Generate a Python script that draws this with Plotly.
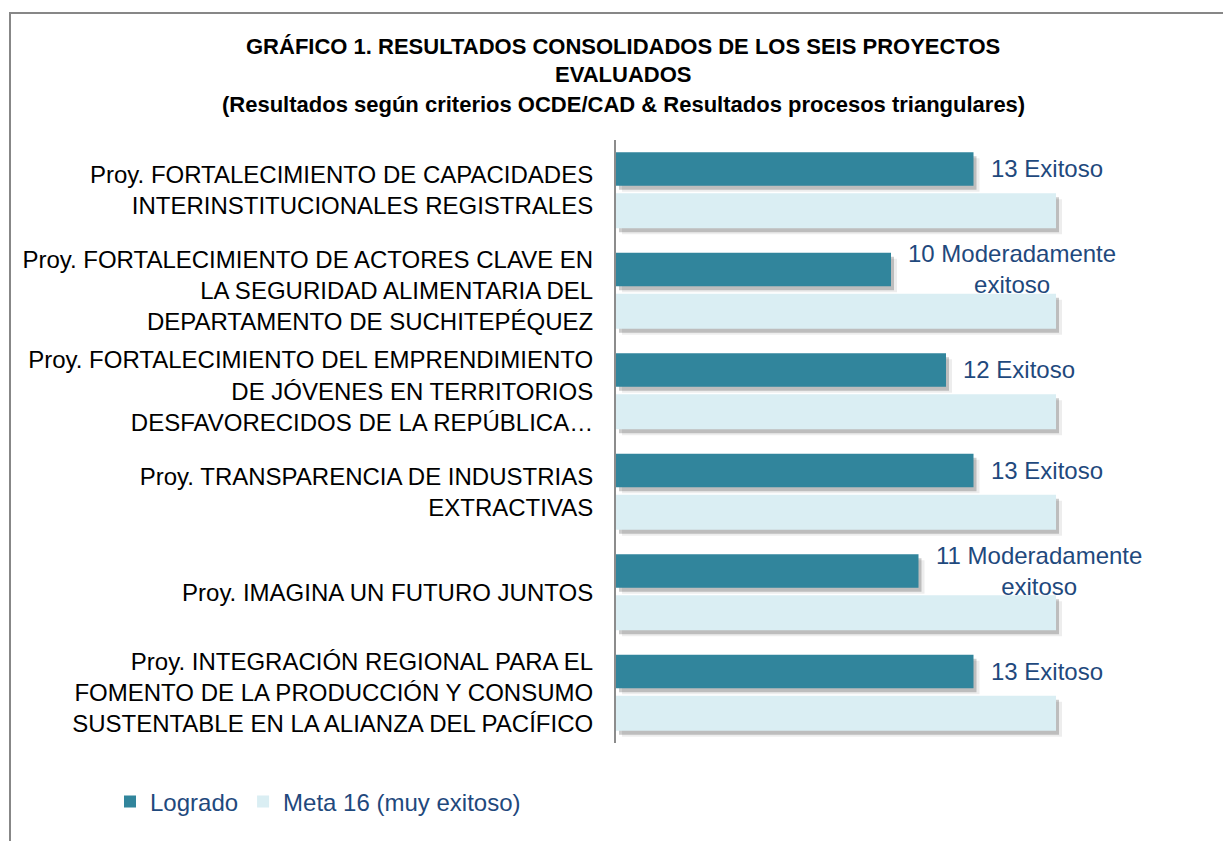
import plotly.graph_objects as go

# ---------------- data ----------------
categories = [
    "Proy. FORTALECIMIENTO DE CAPACIDADES<br>INTERINSTITUCIONALES REGISTRALES",
    "Proy. FORTALECIMIENTO DE ACTORES CLAVE EN<br>LA SEGURIDAD ALIMENTARIA DEL<br>DEPARTAMENTO DE SUCHITEPÉQUEZ",
    "Proy. FORTALECIMIENTO DEL EMPRENDIMIENTO<br>DE JÓVENES EN TERRITORIOS<br>DESFAVORECIDOS DE LA REPÚBLICA…",
    "Proy. TRANSPARENCIA DE INDUSTRIAS<br>EXTRACTIVAS",
    "Proy. IMAGINA UN FUTURO JUNTOS",
    "Proy. INTEGRACIÓN REGIONAL PARA EL<br>FOMENTO DE LA PRODUCCIÓN Y CONSUMO<br>SUSTENTABLE EN LA ALIANZA DEL PACÍFICO",
]
logrado = [13, 10, 12, 13, 11, 13]
meta = [16, 16, 16, 16, 16, 16]
ratings = ["Exitoso", "Moderadamente exitoso", "Exitoso", "Exitoso",
           "Moderadamente exitoso", "Exitoso"]
series_names = ["Logrado", "Meta 16 (muy exitoso)"]
title_lines = [
    "GRÁFICO 1. RESULTADOS CONSOLIDADOS DE LOS SEIS PROYECTOS",
    "EVALUADOS",
    "(Resultados según criterios OCDE/CAD & Resultados procesos triangulares)",
]

# ---------------- style ----------------
C_LOG = "#31859C"
C_META = "#DAEEF3"
C_TXT = "#1F497D"
FONT = "Liberation Sans, Arial, sans-serif"

W, H = 1223, 841
L, R, T, B = 616, 57, 140, 98
PW, PH = W - L - R, H - T - B
XMAX = 20.0
ux = PW / XMAX          # px per x unit
uy = PH / len(categories)  # px per category

pos = list(range(len(categories)))
OFF_LOG, WID_LOG = -0.378, 0.333
OFF_META, WID_META = 0.030, 0.348

fig = go.Figure()

# drop shadows (two soft layers)
for dx, dy, col in [(6, 6, "rgba(0,0,0,0.07)"), (3, 4, "rgba(0,0,0,0.20)")]:
    for vals, off, wid in [(logrado, OFF_LOG, WID_LOG), (meta, OFF_META, WID_META)]:
        fig.add_trace(go.Bar(
            y=pos, x=vals, base=[dx / ux] * len(vals), orientation="h",
            offset=off + dy / uy, width=wid, marker=dict(color=col, line=dict(width=0)),
            showlegend=False, hoverinfo="skip"))

fig.add_trace(go.Bar(y=pos, x=logrado, orientation="h", name=series_names[0],
                     offset=OFF_LOG, width=WID_LOG,
                     marker=dict(color=C_LOG, line=dict(width=0))))
fig.add_trace(go.Bar(y=pos, x=meta, orientation="h", name=series_names[1],
                     offset=OFF_META, width=WID_META,
                     marker=dict(color=C_META, line=dict(width=0))))

# data labels
for i, (v, r) in enumerate(zip(logrado, ratings)):
    txt = f"{v} {r}".replace("Moderadamente ", "Moderadamente<br>")
    fig.add_annotation(x=v, y=i + OFF_LOG + WID_LOG / 2, xref="x", yref="y",
                       text=txt, showarrow=False, xanchor="left", yanchor="middle",
                       xshift=15, align="center",
                       font=dict(family=FONT, size=24, color=C_TXT))

# titles (three lines, placed individually)
for line, ypx in zip(title_lines, [46, 74, 104]):
    fig.add_annotation(x=(623 - L) / PW, y=(H - B - ypx) / PH, xref="paper", yref="paper",
                       text=f"<b>{line}</b>", showarrow=False, xanchor="center",
                       yanchor="middle", align="center", borderpad=0,
                       font=dict(family=FONT, size=22, color="#000000"))

# chart-area border (top and left edges visible)
fig.add_shape(type="rect", xref="paper", yref="paper",
              x0=(10 - L) / PW, x1=(1300 - L) / PW,
              y0=(H - B - 900) / PH, y1=(H - B - 13) / PH,
              line=dict(color="#878787", width=2), fillcolor="rgba(0,0,0,0)",
              layer="below")

fig.update_layout(
    template="none",
    width=W, height=H,
    margin=dict(l=L, r=R, t=T, b=B, pad=0),
    paper_bgcolor="white", plot_bgcolor="white",
    barmode="overlay",
    font=dict(family=FONT, size=22, color="#000000"),
    showlegend=True,
    legend=dict(orientation="h", x=(110 - L) / PW, y=(H - B - 802) / PH,
                xanchor="left", yanchor="middle",
                font=dict(family=FONT, size=24, color=C_TXT),
                itemwidth=30, bgcolor="rgba(0,0,0,0)", traceorder="normal"),
    xaxis=dict(range=[0, XMAX], visible=False, showgrid=False, zeroline=False,
               automargin=False),
    yaxis=dict(range=[len(categories) - 0.5, -0.5], tickmode="array",
               tickvals=pos, ticktext=categories, showgrid=False, zeroline=False,
               showline=True, linecolor="#8C8C8C", linewidth=2, ticks="",
               ticklabelstandoff=16, automargin=False,
               tickfont=dict(family=FONT, size=24, color="#000000")),
)

fig.write_html("out.html", config={"displayModeBar": False},
               post_script="document.body.style.margin='0';document.body.style.overflow='hidden';")
